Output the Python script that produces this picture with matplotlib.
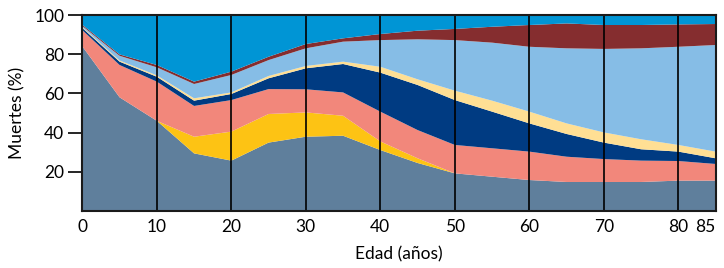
import matplotlib.pyplot as plt
import numpy as np

# Datos (porcentaje de muertes por grupo, apilados de abajo hacia arriba)
edades = [0, 5, 10, 15, 20, 25, 30, 35, 40, 45, 50, 55, 60, 65, 70, 75, 80, 85]

gris = [84.0, 58.0, 46.0, 29.4, 25.7, 34.9, 37.9, 38.4, 31.1, 24.5, 19.2, 17.5, 15.8, 14.8, 14.8, 14.8, 15.5, 15.5]
amarillo = [0, 0, 0, 8.5, 14.8, 14.6, 12.4, 10.2, 4.4, 2.4, 0, 0, 0, 0, 0, 0, 0, 0]
salmon = [8.3, 16.5, 20.0, 15.7, 16.1, 12.7, 11.8, 11.9, 15.2, 14.4, 14.5, 14.5, 14.5, 12.9, 11.7, 10.9, 10.0, 8.5]
azul_oscuro = [1.1, 1.7, 2.5, 2.7, 3.1, 5.5, 10.7, 14.5, 19.9, 23.0, 22.9, 18.7, 14.4, 11.6, 8.4, 5.8, 4.8, 2.9]
amarillo_claro = [0.4, 0.6, 0.7, 1.2, 0.8, 1.2, 1.2, 1.2, 3.0, 2.9, 4.8, 5.6, 6.0, 5.4, 5.2, 5.1, 3.4, 3.4]
azul_claro = [0.6, 2.4, 4.1, 7.3, 8.9, 8.1, 9.0, 10.2, 13.6, 20.4, 25.8, 29.6, 33.1, 38.3, 42.6, 46.4, 50.1, 54.4]
rojo_oscuro = [0.6, 0.7, 1.2, 1.2, 1.7, 1.7, 2.2, 1.7, 3.1, 4.4, 5.7, 8.1, 11.1, 12.7, 12.2, 11.9, 11.4, 10.7]
capas = [gris, amarillo, salmon, azul_oscuro, amarillo_claro, azul_claro, rojo_oscuro]
# la capa superior completa hasta 100 %
azul = list(100 - np.sum(capas, axis=0))
capas.append(azul)

colores = ['#5f7f9c', '#fdc314', '#f2877b', '#003b82', '#ffdf94', '#86bde6', '#852d2f', '#0095d5']

xticks = [0, 10, 20, 30, 40, 50, 60, 70, 80, 85]
yticks = [20, 40, 60, 80, 100]

plt.rcParams['font.family'] = ['Lato', 'DejaVu Sans']

fig = plt.figure(figsize=(7.24, 2.68), dpi=100)
ax = fig.add_axes([0.1137, 0.2127, 0.8747, 0.7313])

ax.stackplot(edades, capas, colors=colores, linewidth=0)

ax.set_xlim(0, 85)
ax.set_ylim(0, 100)
ax.set_xticks(xticks)
ax.set_yticks(yticks)
ax.tick_params(axis='x', length=0, pad=6, labelsize=12.5)
ax.tick_params(axis='y', length=10, width=1.2, pad=3, labelsize=12.5)
# el 85 queda pegado al borde derecho
ax.get_xticklabels()[-1].set_horizontalalignment('right')

# lineas verticales cada 10 años
for x in xticks[1:-1]:
    ax.axvline(x, color='black', lw=1.2, zorder=3)

for s in ax.spines.values():
    s.set_linewidth(1.5)
    s.set_color('#1a1a1a')
    s.set_zorder(4)

ax.set_xlabel('Edad (años)', fontsize=12.5, labelpad=8)
ax.set_ylabel('Muertes (%)', fontsize=12.5, labelpad=6)

fig.savefig('out.png', dpi=100)
